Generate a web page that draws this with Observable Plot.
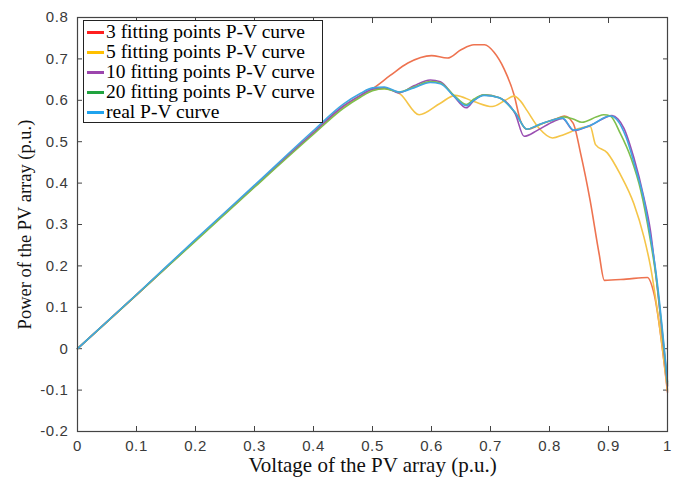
<!DOCTYPE html>
<html>
<head>
<meta charset="utf-8">
<script src="https://cdn.jsdelivr.net/npm/d3@7"></script>
<script src="https://cdn.jsdelivr.net/npm/@observablehq/plot@0.6"></script>
<style>
  html, body { margin: 0; padding: 0; background: #fff; }
  #wrap { position: relative; width: 683px; height: 484px; }
  #legend {
    position: absolute; left: 83px; top: 20px; width: 240px; height: 103px;
    border: 1px solid #222; background: #fff; box-sizing: border-box;
    font-family: "Liberation Serif", "Times New Roman", serif; font-size: 19.5px;
    padding-top: 1px;
  }
  .row { display: flex; align-items: center; height: 20px; line-height: 20px; white-space: nowrap; }
  .sw { width: 17px; height: 3px; margin-left: 3px; margin-right: 2px; }
  .tick-lbl text { letter-spacing: 0.6px; }
</style>
</head>
<body>
<div id="wrap"><div id="chart"></div><div id="legend"></div></div>
<script>
const seriesNames = ["3 fitting points P-V curve", "5 fitting points P-V curve", "10 fitting points P-V curve", "20 fitting points P-V curve", "real P-V curve"];
const lineColors = ["#ee7350", "#f5c548", "#9a4fb2", "#7fbf4d", "#3fa6e2"];
const legendColors = ["#ff1f1f", "#ffc000", "#9c45ad", "#21a33f", "#1fa3ee"];
const xTicks = [0, 0.1, 0.2, 0.3, 0.4, 0.5, 0.6, 0.7, 0.8, 0.9, 1];
const yTicks = [-0.2, -0.1, 0, 0.1, 0.2, 0.3, 0.4, 0.5, 0.6, 0.7, 0.8];

const v3 = [0, 0.1, 0.2, 0.3, 0.4, 0.45, 0.48, 0.5, 0.53, 0.56, 0.6, 0.627, 0.65, 0.672, 0.69, 0.706, 0.723, 0.74, 0.751, 0.762, 0.79, 0.813, 0.825, 0.84, 0.853, 0.869, 0.884, 0.893, 0.93, 0.966, 0.977, 1.0];
const p3 = [0, 0.13, 0.262, 0.392, 0.522, 0.585, 0.612, 0.628, 0.66, 0.69, 0.708, 0.702, 0.722, 0.734, 0.734, 0.716, 0.676, 0.613, 0.55, 0.53, 0.545, 0.556, 0.562, 0.545, 0.47, 0.357, 0.23, 0.165, 0.168, 0.172, 0.134, -0.105];

const v5 = [0, 0.1, 0.2, 0.3, 0.4, 0.45, 0.48, 0.5, 0.52, 0.547, 0.579, 0.615, 0.64, 0.672, 0.703, 0.725, 0.74, 0.751, 0.762, 0.782, 0.805, 0.824, 0.853, 0.869, 0.878, 0.898, 0.92, 0.943, 0.96, 0.971, 0.985, 1.0];
const p5 = [0, 0.13, 0.262, 0.392, 0.522, 0.583, 0.61, 0.625, 0.628, 0.615, 0.565, 0.593, 0.612, 0.597, 0.585, 0.6, 0.61, 0.598, 0.575, 0.533, 0.509, 0.517, 0.533, 0.537, 0.493, 0.473, 0.421, 0.35, 0.27, 0.2, 0.07, -0.1];

const v10 = [0, 0.1, 0.2, 0.3, 0.4, 0.45, 0.48, 0.5, 0.52, 0.545, 0.57, 0.598, 0.615, 0.638, 0.659, 0.672, 0.689, 0.715, 0.742, 0.757, 0.78, 0.807, 0.822, 0.841, 0.87, 0.906, 0.916, 0.926, 0.943, 0.96, 0.971, 0.98, 1.0];
const p10 = [0, 0.13, 0.262, 0.392, 0.522, 0.585, 0.612, 0.627, 0.63, 0.618, 0.635, 0.649, 0.645, 0.61, 0.582, 0.6, 0.613, 0.606, 0.567, 0.513, 0.528, 0.549, 0.556, 0.527, 0.54, 0.563, 0.555, 0.533, 0.461, 0.365, 0.286, 0.182, -0.09];

const v20 = [0, 0.1, 0.2, 0.3, 0.4, 0.45, 0.48, 0.5, 0.52, 0.545, 0.57, 0.598, 0.615, 0.638, 0.659, 0.672, 0.689, 0.715, 0.742, 0.762, 0.78, 0.807, 0.825, 0.84, 0.855, 0.88, 0.892, 0.903, 0.92, 0.938, 0.955, 0.97, 0.98, 1.0];
const p20 = [0, 0.13, 0.26, 0.39, 0.518, 0.58, 0.608, 0.623, 0.628, 0.62, 0.632, 0.645, 0.642, 0.612, 0.59, 0.603, 0.613, 0.606, 0.57, 0.53, 0.54, 0.553, 0.56, 0.555, 0.547, 0.56, 0.565, 0.562, 0.52, 0.461, 0.38, 0.27, 0.18, -0.085];

const vReal = [0, 0.1, 0.2, 0.3, 0.4, 0.45, 0.48, 0.5, 0.52, 0.545, 0.57, 0.598, 0.615, 0.638, 0.659, 0.672, 0.689, 0.715, 0.742, 0.762, 0.78, 0.807, 0.822, 0.841, 0.87, 0.903, 0.915, 0.93, 0.945, 0.96, 0.97, 0.98, 1.0];
const pReal = [0, 0.131, 0.264, 0.395, 0.527, 0.59, 0.617, 0.63, 0.632, 0.62, 0.63, 0.643, 0.64, 0.61, 0.587, 0.6, 0.612, 0.606, 0.57, 0.53, 0.54, 0.553, 0.557, 0.528, 0.54, 0.562, 0.552, 0.51, 0.44, 0.36, 0.28, 0.19, -0.08];

const volts = [v3, v5, v10, v20, vReal];
const powers = [p3, p5, p10, p20, pReal];

const data = [];
seriesNames.forEach((name, i) => {
  volts[i].forEach((v, j) => data.push({series: name, v, p: powers[i][j]}));
});

const tickFont = {fontSize: 15, fontFamily: "Liberation Sans, Arial, sans-serif", fill: "#3a3a3a", className: "tick-lbl"};
const serif = "Liberation Serif, Times New Roman, serif";

const chart = Plot.plot({
  width: 683,
  height: 484,
  marginLeft: 77,
  marginRight: 16,
  marginTop: 17,
  marginBottom: 53,
  style: {background: "#fff", overflow: "visible"},
  x: {domain: [0, 1]},
  y: {domain: [-0.2, 0.8]},
  color: {domain: seriesNames, range: lineColors},
  marks: [
    Plot.axisX({ticks: xTicks, tickSize: -5, tickPadding: 14, tickFormat: d => String(+d.toFixed(1)), label: null, stroke: "#444", ...tickFont}),
    Plot.axisX({ticks: xTicks, anchor: "top", tickSize: -5, tickFormat: () => "", label: null, stroke: "#444"}),
    Plot.axisY({ticks: yTicks, tickSize: -5, tickPadding: 14, tickFormat: d => String(+d.toFixed(1)), label: null, stroke: "#444", ...tickFont}),
    Plot.axisY({ticks: yTicks, anchor: "right", tickSize: -5, tickFormat: () => "", label: null, stroke: "#444"}),
    Plot.line(data, {x: "v", y: "p", z: "series", stroke: "series", strokeWidth: 1.6, curve: "monotone-x"}),
    Plot.frame({stroke: "#444", strokeWidth: 1.2}),
    Plot.text(["Voltage of the PV array (p.u.)"], {frameAnchor: "bottom", dy: 40, fontSize: 21, fontFamily: serif, fill: "#111"}),
    Plot.text(["Power of the PV array (p.u.)"], {frameAnchor: "left", textAnchor: "middle", dx: -52, rotate: -90, fontSize: 18.5, fontFamily: serif, fill: "#111"})
  ]
});
document.getElementById("chart").appendChild(chart);

const legend = document.getElementById("legend");
seriesNames.forEach((name, i) => {
  const row = document.createElement("div");
  row.className = "row";
  const sw = document.createElement("span");
  sw.className = "sw";
  sw.style.background = legendColors[i];
  const t = document.createElement("span");
  t.textContent = name;
  row.appendChild(sw);
  row.appendChild(t);
  legend.appendChild(row);
});
</script>
</body>
</html>
